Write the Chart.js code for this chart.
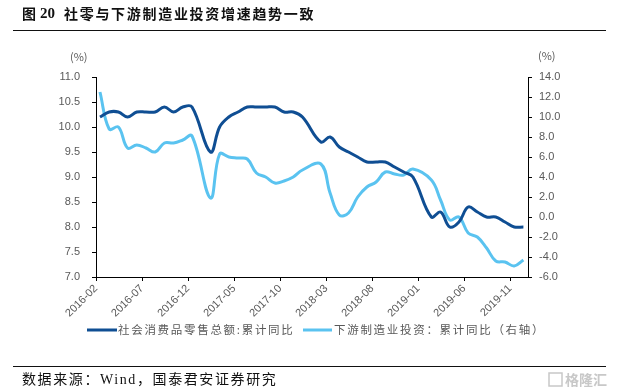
<!DOCTYPE html>
<html>
<head>
<meta charset="utf-8">
<script src="https://cdn.jsdelivr.net/npm/chart.js@4/dist/chart.umd.min.js"></script>
<style>
  html, body { margin: 0; padding: 0; background: #fff; }
  #wrap { width: 618px; height: 392px; position: relative; }
</style>
</head>
<body>
<div id="wrap"><canvas id="c" width="618" height="392"></canvas></div>
<script>
// 月份 2016-02 ~ 2019-12（1月无数据）
const months = [
  '2016-02','2016-03','2016-04','2016-05','2016-06','2016-07','2016-08','2016-09','2016-10','2016-11','2016-12',
  '2017-01','2017-02','2017-03','2017-04','2017-05','2017-06','2017-07','2017-08','2017-09','2017-10','2017-11','2017-12',
  '2018-01','2018-02','2018-03','2018-04','2018-05','2018-06','2018-07','2018-08','2018-09','2018-10','2018-11','2018-12',
  '2019-01','2019-02','2019-03','2019-04','2019-05','2019-06','2019-07','2019-08','2019-09','2019-10','2019-11','2019-12'
];

// 社会消费品零售总额:累计同比（左轴）
const retail = [
  10.2, 10.3, 10.3, 10.2, 10.3, 10.3, 10.3, 10.4, 10.3, 10.4, 10.4,
  null, 9.5, 10.0, 10.2, 10.3, 10.4, 10.4, 10.4, 10.4, 10.3, 10.3, 10.2,
  null, 9.7, 9.8, 9.6, 9.5, 9.4, 9.3, 9.3, 9.3, 9.2, 9.1, 9.0,
  null, 8.2, 8.3, 8.0, 8.1, 8.4, 8.3, 8.2, 8.2, 8.1, 8.0, 8.0
];

// 下游制造业投资：累计同比（右轴）
const invest = [
  12.5, 8.8, 9.0, 6.9, 7.2, 6.9, 6.5, 7.4, 7.4, 7.7, 8.1,
  null, 1.9, 6.3, 6.0, 5.9, 5.8, 4.4, 4.0, 3.4, 3.6, 4.0, 4.7,
  null, 5.3, 2.4, 0.2, 0.4, 2.0, 3.0, 3.5, 4.5, 4.3, 4.2, 4.8,
  null, 3.7, 1.7, -0.3, 0.0, -1.6, -2.0, -3.1, -4.4, -4.5, -4.9, -4.3
];

const tickLabels = ['2016-02','2016-07','2016-12','2017-05','2017-10','2018-03','2018-08','2019-01','2019-06','2019-11'];

const titleText = '社零与下游制造业投资增速趋势一致';
const legendLabels = ['社会消费品零售总额:累计同比', '下游制造业投资：累计同比（右轴）'];
const sourceText = '数据来源：Wind，国泰君安证券研究';

const darkBlue = '#0F4E93';
const lightBlue = '#5AC3F0';
const grey = '#595959';

const toPoints = arr => arr.map((v, i) => ({ x: i, y: v }));

// 标题、图例、来源等
const decor = {
  id: 'decor',
  afterDraw(chart) {
    const ctx = chart.ctx;
    ctx.save();
    // 标题
    ctx.fillStyle = '#111';
    ctx.textBaseline = 'middle';
    ctx.font = "bold 14px 'Noto Sans CJK SC'";
    ctx.fillText('图', 22, 14);
    ctx.font = "bold 15px 'Liberation Serif'";
    ctx.fillText('20', 40, 14);
    ctx.font = "bold 14px 'Noto Sans CJK SC'";
    ctx.letterSpacing = '1.7px';
    ctx.fillText(titleText, 64, 14);
    ctx.letterSpacing = '0px';
    ctx.fillRect(13, 30, 593, 1);
    ctx.fillRect(13, 366, 593, 1);

    // (%)
    ctx.fillStyle = grey;
    ctx.font = "11px 'Noto Sans CJK SC'";
    ctx.textAlign = 'left';
    ctx.fillText('(%)', 70, 57);
    ctx.fillText('(%)', 538, 56);

    // 图例
    ctx.lineWidth = 3;
    ctx.strokeStyle = darkBlue;
    ctx.beginPath(); ctx.moveTo(87, 330); ctx.lineTo(117, 330); ctx.stroke();
    ctx.strokeStyle = lightBlue;
    ctx.beginPath(); ctx.moveTo(303, 330); ctx.lineTo(332, 330); ctx.stroke();
    ctx.font = "11.5px 'Noto Sans CJK SC'";
    ctx.letterSpacing = '1.7px';
    ctx.fillText(legendLabels[0], 118, 330);
    ctx.fillText(legendLabels[1], 334, 330);
    ctx.letterSpacing = '0px';

    // 来源
    ctx.fillStyle = '#111';
    ctx.font = "14px 'Liberation Serif', 'Noto Sans CJK SC'";
    ctx.letterSpacing = '1.6px';
    ctx.fillText(sourceText, 22, 380);
    ctx.letterSpacing = '0px';

    // 水印
    ctx.strokeStyle = '#c8c8c8';
    ctx.lineWidth = 1.5;
    ctx.strokeRect(549, 373, 13, 13);
    ctx.fillStyle = '#c8c8c8';
    ctx.font = "bold 14px 'Noto Sans CJK SC'";
    ctx.fillText('格隆汇', 565, 380);
    ctx.restore();
  }
};

const axisGrid = { display: true, drawOnChartArea: false, drawTicks: true, tickLength: 4, tickColor: '#000' };

new Chart(document.getElementById('c'), {
  type: 'line',
  data: {
    datasets: [
      {
        label: legendLabels[0],
        data: toPoints(retail),
        yAxisID: 'y',
        borderColor: darkBlue,
        borderWidth: 3,
        pointRadius: 0,
        tension: 0.4,
        spanGaps: true,
        fill: false
      },
      {
        label: legendLabels[1],
        data: toPoints(invest),
        yAxisID: 'y1',
        borderColor: lightBlue,
        borderWidth: 3,
        pointRadius: 0,
        tension: 0.4,
        spanGaps: true,
        fill: false
      }
    ]
  },
  options: {
    responsive: false,
    animation: false,
    layout: { padding: { top: 77, left: 0, right: 0, bottom: 0 } },
    plugins: { legend: { display: false }, tooltip: { enabled: false } },
    scales: {
      x: {
        type: 'linear',
        min: -0.43,
        max: 46.5,
        grid: axisGrid,
        border: { display: true, color: '#000', width: 1 },
        afterBuildTicks: scale => {
          scale.ticks = tickLabels.map((t, k) => ({ value: k * 5 - 0.43 }));
        },
        afterFit: scale => { scale.height = 115; },
        ticks: {
          autoSkip: false,
          maxRotation: 45,
          minRotation: 45,
          padding: 1,
          color: grey,
          font: { size: 11, family: "'Liberation Sans'" },
          callback: (v, i) => tickLabels[i]
        }
      },
      y: {
        position: 'left',
        min: 7,
        max: 11,
        grid: axisGrid,
        border: { display: true, color: '#000', width: 1 },
        afterFit: scale => { scale.width = 96; },
        ticks: {
          stepSize: 0.5,
          padding: 12,
          color: grey,
          font: { size: 11, family: "'Liberation Sans'" },
          callback: v => v.toFixed(1)
        }
      },
      y1: {
        position: 'right',
        min: -6,
        max: 14,
        grid: axisGrid,
        border: { display: true, color: '#000', width: 1 },
        afterFit: scale => { scale.width = 90; },
        ticks: {
          stepSize: 2,
          padding: 7,
          color: grey,
          font: { size: 11, family: "'Liberation Sans'" },
          callback: v => v.toFixed(1)
        }
      }
    }
  },
  plugins: [decor]
});
</script>
</body>
</html>
